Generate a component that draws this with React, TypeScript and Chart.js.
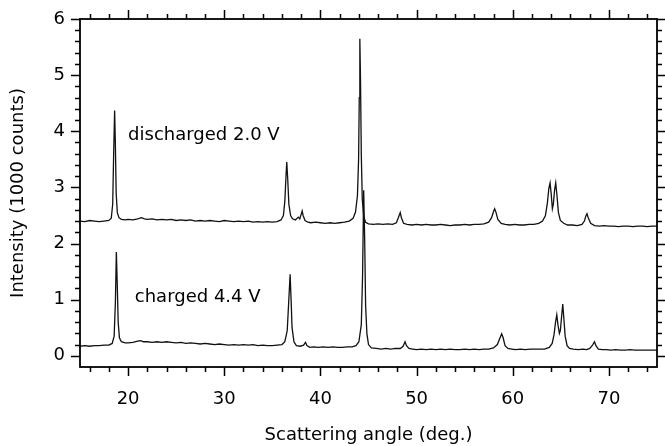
import { useEffect, useRef } from "react";
import { Chart, registerables } from "chart.js";

Chart.register(...registerables);

// Scattering angle (deg.) / intensity (1000 counts)
const dischargedPattern: [number, number][] = [
  [15.0, 2.40], [15.5, 2.39], [16.0, 2.41], [16.5, 2.40], [17.0, 2.39], [17.5, 2.40], [18.0, 2.41],
  [18.25, 2.45], [18.4, 2.70], [18.5, 3.60], [18.6, 4.37], [18.68, 3.75], [18.76, 2.90], [18.88, 2.55],
  [19.05, 2.46], [19.3, 2.43], [19.7, 2.42], [20.0, 2.43], [20.5, 2.42], [21.0, 2.44], [21.4, 2.46],
  [21.7, 2.44], [22.0, 2.43], [22.5, 2.44], [23.0, 2.42], [23.5, 2.43], [24.0, 2.42], [24.5, 2.43],
  [25.0, 2.41], [25.5, 2.42], [26.0, 2.41], [26.5, 2.42], [27.0, 2.40], [27.5, 2.41], [28.0, 2.40],
  [28.5, 2.41], [29.0, 2.40], [29.5, 2.39], [30.0, 2.41], [30.5, 2.40], [31.0, 2.39], [31.5, 2.40],
  [32.0, 2.39], [32.5, 2.40], [33.0, 2.38], [33.5, 2.39], [34.0, 2.38], [34.5, 2.39], [35.0, 2.38],
  [35.5, 2.39], [35.9, 2.42], [36.15, 2.50], [36.3, 2.75], [36.42, 3.20], [36.5, 3.45], [36.6, 3.15],
  [36.72, 2.70], [36.9, 2.50], [37.1, 2.44], [37.4, 2.42], [37.7, 2.47], [37.85, 2.44], [38.0, 2.52],
  [38.1, 2.58], [38.2, 2.50], [38.4, 2.41], [38.7, 2.38], [39.0, 2.37], [39.5, 2.38], [40.0, 2.37],
  [40.5, 2.36], [41.0, 2.37], [41.5, 2.36], [42.0, 2.37], [42.5, 2.38], [43.0, 2.40], [43.4, 2.45],
  [43.65, 2.56], [43.85, 2.85], [43.97, 3.50], [44.04, 4.60], [44.1, 5.65], [44.17, 4.90], [44.25, 3.60],
  [44.35, 2.80], [44.5, 2.48], [44.7, 2.38], [45.0, 2.35], [45.5, 2.34], [46.0, 2.35], [46.5, 2.34],
  [47.0, 2.35], [47.5, 2.34], [47.9, 2.37], [48.15, 2.48], [48.3, 2.55], [48.42, 2.46], [48.65, 2.36],
  [49.0, 2.34], [49.5, 2.33], [50.0, 2.34], [50.5, 2.33], [51.0, 2.34], [51.5, 2.33], [52.0, 2.33],
  [52.5, 2.34], [53.0, 2.33], [53.5, 2.32], [54.0, 2.33], [54.5, 2.33], [55.0, 2.34], [55.5, 2.33],
  [56.0, 2.34], [56.5, 2.34], [57.0, 2.35], [57.5, 2.38], [57.8, 2.46], [58.0, 2.57], [58.12, 2.62],
  [58.25, 2.56], [58.45, 2.43], [58.8, 2.36], [59.2, 2.34], [59.7, 2.33], [60.2, 2.34], [60.7, 2.33],
  [61.2, 2.33], [61.7, 2.34], [62.2, 2.34], [62.7, 2.36], [63.1, 2.40], [63.4, 2.50], [63.6, 2.72],
  [63.75, 2.98], [63.88, 3.08], [64.0, 2.88], [64.12, 2.62], [64.22, 2.70], [64.35, 2.95], [64.47, 3.08],
  [64.6, 2.85], [64.75, 2.55], [64.95, 2.41], [65.3, 2.36], [65.7, 2.33], [66.2, 2.33], [66.7, 2.32],
  [67.2, 2.34], [67.45, 2.40], [67.6, 2.49], [67.72, 2.53], [67.85, 2.46], [68.1, 2.36], [68.5, 2.32],
  [69.0, 2.31], [69.5, 2.32], [70.0, 2.31], [70.5, 2.31], [71.0, 2.30], [71.5, 2.31], [72.0, 2.31],
  [72.5, 2.30], [73.0, 2.31], [73.5, 2.31], [74.0, 2.30], [74.5, 2.31], [75.0, 2.31],
];

const chargedPattern: [number, number][] = [
  [15.0, 0.17], [15.5, 0.18], [16.0, 0.17], [16.5, 0.18], [17.0, 0.18], [17.5, 0.19], [18.0, 0.19],
  [18.35, 0.22], [18.55, 0.35], [18.68, 0.95], [18.78, 1.85], [18.87, 1.30], [18.97, 0.60], [19.1, 0.32],
  [19.3, 0.25], [19.7, 0.23], [20.0, 0.23], [20.5, 0.24], [21.0, 0.26], [21.3, 0.27], [21.6, 0.25],
  [22.0, 0.25], [22.5, 0.24], [23.0, 0.25], [23.5, 0.24], [24.0, 0.25], [24.5, 0.24], [25.0, 0.23],
  [25.5, 0.24], [26.0, 0.22], [26.5, 0.23], [27.0, 0.22], [27.5, 0.21], [28.0, 0.22], [28.5, 0.21],
  [29.0, 0.20], [29.5, 0.21], [30.0, 0.20], [30.5, 0.19], [31.0, 0.20], [31.5, 0.19], [32.0, 0.20],
  [32.5, 0.19], [33.0, 0.20], [33.5, 0.18], [34.0, 0.19], [34.5, 0.18], [35.0, 0.18], [35.5, 0.19],
  [36.0, 0.20], [36.3, 0.25], [36.55, 0.45], [36.7, 0.95], [36.85, 1.45], [36.95, 1.00], [37.05, 0.50],
  [37.25, 0.25], [37.5, 0.18], [37.9, 0.17], [38.25, 0.19], [38.45, 0.24], [38.6, 0.18], [38.9, 0.15],
  [39.3, 0.16], [39.8, 0.15], [40.3, 0.16], [40.8, 0.15], [41.3, 0.16], [41.8, 0.15], [42.3, 0.15],
  [42.8, 0.16], [43.3, 0.16], [43.7, 0.18], [44.0, 0.25], [44.25, 0.55], [44.38, 1.40], [44.5, 2.95],
  [44.6, 2.10], [44.7, 0.90], [44.83, 0.40], [45.0, 0.20], [45.3, 0.14], [45.8, 0.13], [46.3, 0.12],
  [46.8, 0.13], [47.3, 0.12], [47.8, 0.13], [48.3, 0.13], [48.6, 0.17], [48.8, 0.25], [48.95, 0.18],
  [49.2, 0.13], [49.6, 0.12], [50.0, 0.11], [50.5, 0.12], [51.0, 0.11], [51.5, 0.12], [52.0, 0.11],
  [52.5, 0.12], [53.0, 0.11], [53.5, 0.12], [54.0, 0.11], [54.5, 0.11], [55.0, 0.12], [55.5, 0.11],
  [56.0, 0.12], [56.5, 0.11], [57.0, 0.12], [57.5, 0.12], [58.0, 0.14], [58.4, 0.20], [58.7, 0.33],
  [58.85, 0.39], [59.0, 0.32], [59.2, 0.18], [59.5, 0.13], [59.9, 0.12], [60.3, 0.11], [60.8, 0.12],
  [61.3, 0.11], [61.8, 0.12], [62.3, 0.12], [62.8, 0.12], [63.3, 0.12], [63.8, 0.15], [64.1, 0.22],
  [64.3, 0.38], [64.45, 0.60], [64.58, 0.73], [64.7, 0.55], [64.85, 0.40], [64.95, 0.45], [65.08, 0.70],
  [65.2, 0.92], [65.32, 0.65], [65.45, 0.35], [65.65, 0.18], [65.9, 0.13], [66.3, 0.12], [66.8, 0.11],
  [67.3, 0.12], [67.7, 0.11], [68.0, 0.13], [68.3, 0.19], [68.5, 0.25], [68.65, 0.18], [68.9, 0.12],
  [69.3, 0.11], [69.7, 0.11], [70.2, 0.10], [70.7, 0.11], [71.2, 0.10], [71.7, 0.10], [72.2, 0.11],
  [72.7, 0.10], [73.2, 0.10], [73.7, 0.10], [74.2, 0.10], [74.6, 0.10], [75.0, 0.10],
];

const xLabelTicks = [20, 30, 40, 50, 60, 70];
const yLabelTicks = [0, 1, 2, 3, 4, 5, 6];
const xTickMarks = [16, 18, 20, 22, 24, 26, 28, 30, 32, 34, 36, 38, 40, 42, 44, 46, 48, 50, 52, 54, 56, 58, 60, 62, 64, 66, 68, 70, 72, 74];
const yTickMarks = [0, 0.2, 0.4, 0.6, 0.8, 1, 1.2, 1.4, 1.6, 1.8, 2, 2.2, 2.4, 2.6, 2.8, 3, 3.2, 3.4, 3.6, 3.8, 4, 4.2, 4.4, 4.6, 4.8, 5, 5.2, 5.4, 5.6, 5.8, 6];

const seriesLabels = ["discharged 2.0 V", "charged 4.4 V"];
const labelAnchors: [number, number][] = [[20.0, 3.85], [20.7, 0.95]];

const FONT_FAMILY = '"DejaVu Sans", sans-serif';
const MAJOR_LEN = 9;
const MINOR_LEN = 5;

const framePlugin = {
  id: "frameTicks",
  afterDatasetsDraw(chart: any) {
    const { ctx, chartArea: a, scales } = chart;
    const x = scales.x;
    const y = scales.y;
    ctx.save();
    ctx.strokeStyle = "#000";
    ctx.lineWidth = 1.8;
    ctx.strokeRect(a.left, a.top, a.right - a.left, a.bottom - a.top);
    ctx.lineWidth = 1.5;
    ctx.beginPath();
    xTickMarks.forEach((v) => {
      const px = Math.round(x.getPixelForValue(v)) + 0.5;
      const len = xLabelTicks.includes(v) ? MAJOR_LEN : MINOR_LEN;
      ctx.moveTo(px, a.bottom);
      ctx.lineTo(px, a.bottom + len);
      ctx.moveTo(px, a.top);
      ctx.lineTo(px, a.top - len);
    });
    yTickMarks.forEach((v) => {
      const py = Math.round(y.getPixelForValue(v)) + 0.5;
      const major = Math.abs(v - Math.round(v)) < 1e-6;
      const len = major ? MAJOR_LEN : MINOR_LEN;
      ctx.moveTo(a.left, py);
      ctx.lineTo(a.left - len, py);
      ctx.moveTo(a.right, py);
      ctx.lineTo(a.right + len, py);
    });
    ctx.stroke();

    ctx.fillStyle = "#000";
    ctx.font = `18px ${FONT_FAMILY}`;
    ctx.textAlign = "left";
    ctx.textBaseline = "alphabetic";
    seriesLabels.forEach((t, i) => {
      const [ax, ay] = labelAnchors[i];
      ctx.fillText(t, x.getPixelForValue(ax), y.getPixelForValue(ay));
    });
    ctx.restore();
  },
};

export default function App() {
  const canvasRef = useRef<HTMLCanvasElement | null>(null);

  useEffect(() => {
    if (!canvasRef.current) return;
    const font = { family: FONT_FAMILY, size: 18 };
    const chart = new Chart(canvasRef.current, {
      type: "line",
      data: {
        datasets: [
          {
            label: seriesLabels[0],
            data: dischargedPattern.map(([a, c]) => ({ x: a, y: c })),
            borderColor: "#111",
            borderWidth: 1.3,
            pointRadius: 0,
            tension: 0,
            fill: false,
          },
          {
            label: seriesLabels[1],
            data: chargedPattern.map(([a, c]) => ({ x: a, y: c })),
            borderColor: "#111",
            borderWidth: 1.3,
            pointRadius: 0,
            tension: 0,
            fill: false,
          },
        ],
      },
      options: {
        animation: false,
        responsive: false,
        layout: { padding: { top: 19, right: 8, left: 0, bottom: 0 } },
        plugins: { legend: { display: false }, tooltip: { enabled: false } },
        scales: {
          x: {
            type: "linear",
            min: 15,
            max: 75,
            grid: { display: false, drawTicks: false },
            border: { display: false },
            afterBuildTicks: (s: any) => {
              s.ticks = xLabelTicks.map((v) => ({ value: v }));
            },
            afterFit: (s: any) => {
              s.height = 79;
              s.paddingLeft = 0;
              s.paddingRight = 0;
            },
            ticks: { font, color: "#000", padding: 22, maxRotation: 0, autoSkip: false },
            title: {
              display: true,
              text: "Scattering angle (deg.)",
              font,
              color: "#000",
              padding: { top: 0, bottom: 0 },
            },
          },
          y: {
            type: "linear",
            min: -0.2,
            max: 6,
            grid: { display: false, drawTicks: false },
            border: { display: false },
            afterBuildTicks: (s: any) => {
              s.ticks = yLabelTicks.map((v) => ({ value: v }));
            },
            afterFit: (s: any) => {
              s.width = 80;
              s.paddingTop = 0;
              s.paddingBottom = 0;
            },
            ticks: { font, color: "#000", padding: 15, autoSkip: false },
            title: {
              display: true,
              text: "Intensity (1000 counts)",
              font,
              color: "#000",
              padding: { top: 8, bottom: 0 },
            },
          },
        },
      },
      plugins: [framePlugin],
    });
    return () => chart.destroy();
  }, []);

  return (
    <div style={{ position: "absolute", left: 0, top: 0, width: 665, height: 446, background: "#fff" }}>
      <canvas ref={canvasRef} width={665} height={446} />
    </div>
  );
}
